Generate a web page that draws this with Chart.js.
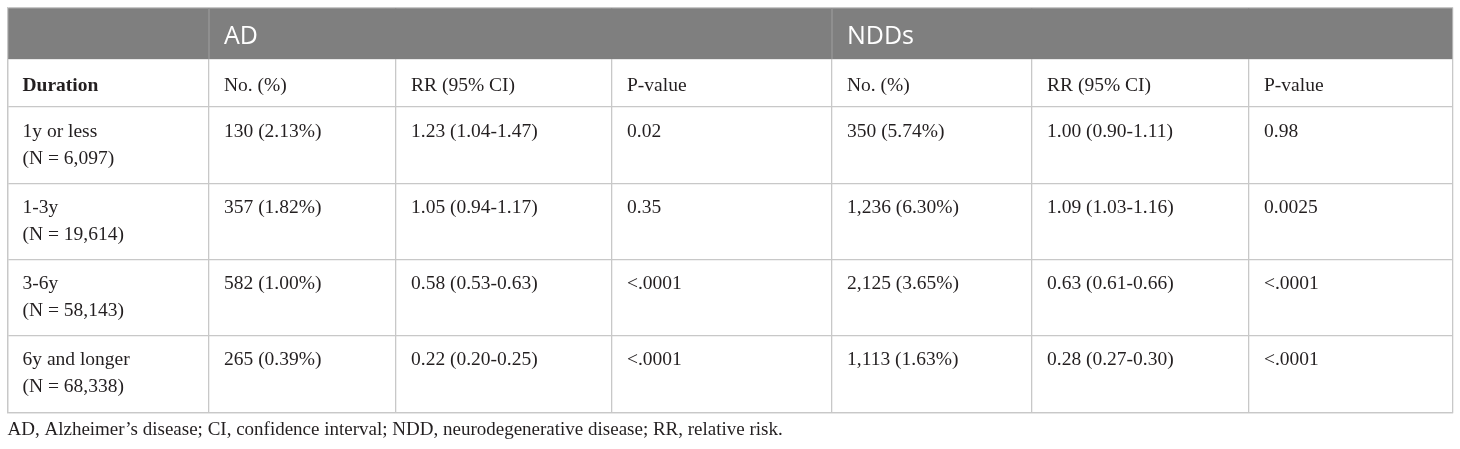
<!DOCTYPE html>
<html>
<head>
<meta charset="utf-8">
<script src="https://cdn.jsdelivr.net/npm/chart.js@4.4.1/dist/chart.umd.min.js"></script>
<style>
  html, body { margin: 0; padding: 0; background: #fff; }
  #wrap { width: 1460px; height: 449px; position: relative; }
</style>
</head>
<body>
<div id="wrap"><canvas id="tbl"></canvas></div>
<script>
/* table contents */
const groups = ['AD', 'NDDs'];
const columnHeaders = ['Duration', 'No. (%)', 'RR (95% CI)', 'P-value', 'No. (%)', 'RR (95% CI)', 'P-value'];
const durations = ['1y or less', '1-3y', '3-6y', '6y and longer'];
const sampleSizes = ['(N = 6,097)', '(N = 19,614)', '(N = 58,143)', '(N = 68,338)'];
const adCounts = ['130 (2.13%)', '357 (1.82%)', '582 (1.00%)', '265 (0.39%)'];
const adRR = ['1.23 (1.04-1.47)', '1.05 (0.94-1.17)', '0.58 (0.53-0.63)', '0.22 (0.20-0.25)'];
const adP = ['0.02', '0.35', '<.0001', '<.0001'];
const nddCounts = ['350 (5.74%)', '1,236 (6.30%)', '2,125 (3.65%)', '1,113 (1.63%)'];
const nddRR = ['1.00 (0.90-1.11)', '1.09 (1.03-1.16)', '0.63 (0.61-0.66)', '0.28 (0.27-0.30)'];
const nddP = ['0.98', '0.0025', '<.0001', '<.0001'];
const footnote = 'AD, Alzheimer\u2019s disease; CI, confidence interval; NDD, neurodegenerative disease; RR, relative risk.';

/* layout (scale units) */
const colEdges = [0, 201.5, 388.5, 604.5, 824.5, 1024.5, 1241.5, 1445.5];
const rowEdges = [0, 51.5, 99.5, 175.5, 251.5, 327.5, 404.5];
const groupStartCol = [1, 4];
const cellPad = 15;
const serif = "'Liberation Serif', 'Times New Roman', serif";
const textColor = '#231f20';
const lineColor = '#c8c8c8';
const headFill = '#7f7f7f';

// body columns: each cell is an array of lines
const bodyColumns = [
  durations.map((d, i) => [d, sampleSizes[i]]),
  adCounts.map(v => [v]),
  adRR.map(v => [v]),
  adP.map(v => [v]),
  nddCounts.map(v => [v]),
  nddRR.map(v => [v]),
  nddP.map(v => [v])
];

const datasets = bodyColumns.map((cells, c) => ({
  label: columnHeaders[c],
  data: cells.map((lines, r) => ({ x: colEdges[c], y: rowEdges[r + 2], lines: lines })),
  pointRadius: 0,
  pointHoverRadius: 0
}));

const tablePlugin = {
  id: 'tablePlugin',
  beforeDatasetsDraw(chart) {
    const { ctx, scales: { x, y } } = chart;
    const x0 = x.getPixelForValue(colEdges[0]);
    const x1 = x.getPixelForValue(colEdges[colEdges.length - 1]);
    const y0 = y.getPixelForValue(rowEdges[0]);
    const y1 = y.getPixelForValue(rowEdges[1]);
    ctx.save();
    ctx.fillStyle = headFill;
    ctx.fillRect(x0 + 0.7, y0 + 0.7, x1 - x0 - 1.4, y1 - y0 - 0.7);
    // faint separators between groups in the gray band
    ctx.strokeStyle = '#9a9a9a';
    ctx.lineWidth = 1.2;
    groupStartCol.forEach(c => {
      const gx = x.getPixelForValue(colEdges[c]);
      ctx.beginPath();
      ctx.moveTo(gx, y0 + 0.7);
      ctx.lineTo(gx, y1);
      ctx.stroke();
    });
    ctx.restore();
  },
  afterDatasetsDraw(chart) {
    const { ctx, scales: { x, y } } = chart;
    ctx.save();
    ctx.textBaseline = 'alphabetic';
    ctx.textAlign = 'left';

    // group header row
    ctx.fillStyle = '#ffffff';
    ctx.font = "25px 'Open Sans', sans-serif";
    groups.forEach((g, i) => {
      const gx = x.getPixelForValue(colEdges[groupStartCol[i]]) + cellPad;
      ctx.fillText(g, gx, y.getPixelForValue(rowEdges[0]) + 36);
    });

    // column header row
    ctx.fillStyle = textColor;
    columnHeaders.forEach((h, c) => {
      ctx.font = (c === 0 ? 'bold ' : '') + '19.5px ' + serif;
      ctx.fillText(h, x.getPixelForValue(colEdges[c]) + cellPad, y.getPixelForValue(rowEdges[1]) + 31.5);
    });

    // body cells
    ctx.font = '19.5px ' + serif;
    chart.data.datasets.forEach((ds, di) => {
      const meta = chart.getDatasetMeta(di);
      meta.data.forEach((pt, i) => {
        const lines = ds.data[i].lines;
        lines.forEach((ln, k) => {
          ctx.fillText(ln, pt.x + cellPad, pt.y + 30 + k * 27);
        });
      });
    });
    ctx.restore();
  }
};

new Chart(document.getElementById('tbl'), {
  type: 'scatter',
  data: { datasets: datasets },
  options: {
    responsive: true,
    maintainAspectRatio: false,
    animation: false,
    devicePixelRatio: 1,
    events: [],
    layout: { padding: { left: 7.5, top: 7.5, right: 7, bottom: 1.6 } },
    plugins: {
      legend: { display: false },
      tooltip: { enabled: false },
      title: {
        display: true,
        position: 'bottom',
        align: 'start',
        text: footnote,
        color: textColor,
        font: { family: serif, size: 19, weight: 'normal' },
        padding: { top: 6, bottom: 6 }
      }
    },
    scales: {
      x: {
        type: 'linear',
        min: colEdges[0],
        max: colEdges[colEdges.length - 1],
        afterBuildTicks: s => { s.ticks = colEdges.map(v => ({ value: v })); },
        ticks: { display: false },
        grid: { color: lineColor, lineWidth: 1.3, drawTicks: false },
        border: { display: true, color: lineColor, width: 1.3 }
      },
      y: {
        type: 'linear',
        reverse: true,
        min: rowEdges[0],
        max: rowEdges[rowEdges.length - 1],
        afterBuildTicks: s => { s.ticks = rowEdges.map(v => ({ value: v })); },
        ticks: { display: false },
        grid: { color: lineColor, lineWidth: 1.3, drawTicks: false },
        border: { display: true, color: lineColor, width: 1.3 }
      }
    }
  },
  plugins: [tablePlugin]
});
</script>
</body>
</html>
